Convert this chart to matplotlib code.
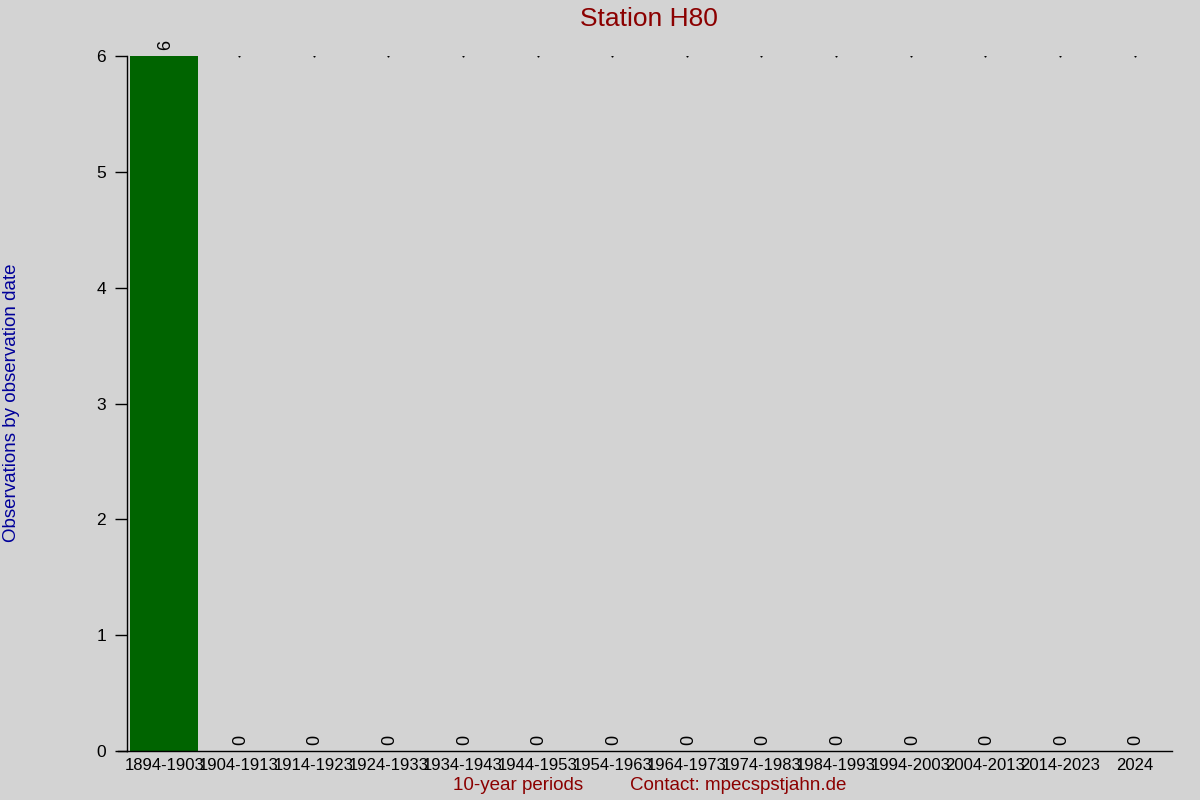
import matplotlib
matplotlib.use("Agg")
import matplotlib.pyplot as plt
from matplotlib.lines import Line2D

plt.rcParams['font.family'] = ['Liberation Sans', 'DejaVu Sans']

# data
periods = ['1894-1903', '1904-1913', '1914-1923', '1924-1933', '1934-1943',
           '1944-1953', '1954-1963', '1964-1973', '1974-1983', '1984-1993',
           '1994-2003', '2004-2013', '2014-2023', '2024']
counts = [6, 0, 0, 0, 0, 0, 0, 0, 0, 0, 0, 0, 0, 0]
yticks = [0, 1, 2, 3, 4, 5, 6]

bg = '#d3d3d3'
fig = plt.figure(figsize=(12, 8), dpi=100, facecolor=bg)
ax = fig.add_axes([0.1058, 0.06125, 0.8709, 0.86875])
ax.set_facecolor(bg)

x = list(range(len(periods)))
ax.bar(x, counts, width=0.91, color='#006400')
ax.set_xlim(-0.5, len(periods) - 0.5)
ax.set_ylim(0, max(counts))

# bar value labels, rotated
for xi, c in zip(x, counts):
    ax.text(xi + 0.02, c + 0.05, str(c), rotation=90, ha='center', va='bottom',
            fontsize=13, color='black')

# tiny dots along the top line
ax.plot(x[1:], [max(counts)] * (len(x) - 1), linestyle='none', marker='s',
        markersize=0.5, color='black')

for s in ['top', 'right']:
    ax.spines[s].set_visible(False)
ax.spines['left'].set_linewidth(1)
ax.spines['bottom'].set_linewidth(1)
# bottom axis line runs a little to the left of the y spine
ax.add_line(Line2D([-0.009, 0], [0, 0], transform=ax.transAxes, color='black',
                   linewidth=1, clip_on=False))

ax.set_yticks(yticks)
ax.tick_params(axis='y', length=9, width=1, labelsize=12.5, pad=6, direction='out')
ax.set_xticks(x)
ax.set_xticklabels(periods)
ax.tick_params(axis='x', length=0, labelsize=12, pad=5)

fig.text(0.541, 0.976, 'Station H80', ha='center', va='center',
         fontsize=19, color='#8b0000')
fig.text(0.01, 0.497, 'Observations by observation date', rotation=90,
         ha='center', va='center', fontsize=13.5, color='#000099')
fig.text(0.432, 0.018, '10-year periods', ha='center', va='center',
         fontsize=13.5, color='#8b0000')
fig.text(0.615, 0.018, 'Contact: mpecspstjahn.de', ha='center', va='center',
         fontsize=13.5, color='#8b0000')

fig.savefig('out.png', dpi=100, facecolor=bg)
